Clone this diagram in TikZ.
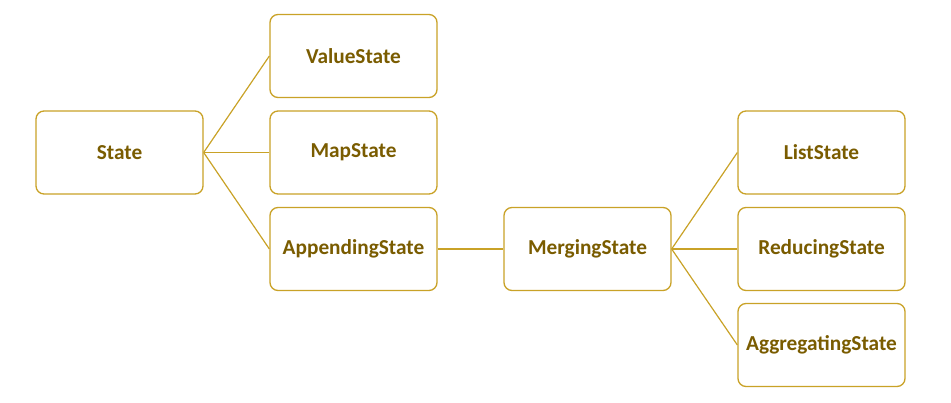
\documentclass[tikz,border=0pt]{standalone}
\usepackage{fontspec}
\setmainfont{Carlito}
\definecolor{gold}{HTML}{C9A227}
\definecolor{olive}{HTML}{7A5C00}
\begin{document}
\begin{tikzpicture}[x=1pt,y=-1pt,
  box/.style={draw=gold, line width=1.3pt, rounded corners=8pt, fill=white,
    minimum width=167pt, minimum height=83pt, inner sep=0pt,
    font=\fontsize{21.3}{25}\selectfont\bfseries, text=olive},
  link/.style={draw=gold, line width=1.2pt}]
\useasboundingbox (0,0) rectangle (951,403);
\node[box] (state) at (119.5,152.5) {State};
\node[box] (value) at (353.5,56) {ValueState};
\node[box] (map) at (353.5,152.5) {MapState};
\node[box] (append) at (353.5,249) {AppendingState};
\node[box] (merge) at (587.5,249) {MergingState};
\node[box] (list) at (821.5,152.5) {ListState};
\node[box] (reduce) at (821.5,249) {ReducingState};
\node[box] (agg) at (821.5,345) {AggregatingState};
\draw[link] (state.east) -- (value.west);
\draw[link] (state.east) -- (map.west);
\draw[link] (state.east) -- (append.west);
\draw[link] (append.east) -- (merge.west);
\draw[link] (merge.east) -- (list.west);
\draw[link] (merge.east) -- (reduce.west);
\draw[link] (merge.east) -- (agg.west);
\end{tikzpicture}
\end{document}
